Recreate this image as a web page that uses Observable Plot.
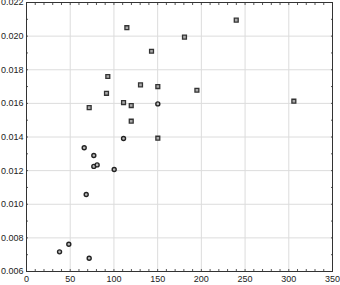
<!DOCTYPE html>
<html><head><meta charset="utf-8">
<script src="https://cdn.jsdelivr.net/npm/d3@7"></script>
<script src="https://cdn.jsdelivr.net/npm/@observablehq/plot@0.6"></script>
<style>body{margin:0;background:#fff;} svg{display:block;}</style>
</head><body><div id="chart"></div>
<script>
const squareX = [93, 91.5, 71.7, 111, 119.8, 119.8, 130.4, 150.2, 150.2, 114.8, 239.9, 180.7, 143, 194.9, 305.8];
const squareY = [0.0176, 0.0166, 0.01575, 0.01605, 0.01587, 0.01494, 0.0171, 0.0170, 0.01393, 0.0205, 0.02095, 0.01994, 0.0191, 0.01678, 0.01613];
const circleX = [37.8, 48.4, 71.7, 68.3, 66, 77, 77, 80.8, 100.3, 111, 150.2];
const circleY = [0.00717, 0.00762, 0.00679, 0.01058, 0.01336, 0.0129, 0.01225, 0.01234, 0.01207, 0.01391, 0.01597];
const xTicks = [0, 50, 100, 150, 200, 250, 300, 350];
const yTicks = [0.006, 0.008, 0.010, 0.012, 0.014, 0.016, 0.018, 0.020, 0.022];
const xMinor = d3.range(0, 351, 10);
const yMinor = d3.range(0.006, 0.02201, 0.001);

const squares = squareX.map((x, i) => ({x, y: squareY[i]}));
const circles = circleX.map((x, i) => ({x, y: circleY[i]}));

const chart = Plot.plot({
  width: 340, height: 285,
  marginLeft: 26, marginRight: 8, marginTop: 2, marginBottom: 14,
  style: {fontFamily: "Liberation Sans, Arial, sans-serif", fontSize: "9px", color: "#222", background: "#fff"},
  x: {domain: [0, 350]},
  y: {domain: [0.006, 0.022]},
  marks: [
    Plot.gridX(xTicks, {stroke: "#dcdcdc", strokeOpacity: 1, strokeWidth: 1}),
    Plot.gridY(yTicks, {stroke: "#dcdcdc", strokeOpacity: 1, strokeWidth: 1}),
    Plot.axisX({anchor: "bottom", ticks: xTicks, tickFormat: d3.format("d"), tickSize: 0, tickPadding: 4, label: null}),
    Plot.axisY({anchor: "left", ticks: yTicks, tickFormat: d3.format(".3f"), tickSize: 0, tickPadding: 3, label: null}),
    Plot.axisX({anchor: "top", ticks: xMinor, tickSize: -2, text: null, label: null, stroke: "#555"}),
    Plot.axisX({anchor: "bottom", ticks: xMinor, tickSize: -2, text: null, label: null, stroke: "#555"}),
    Plot.axisY({anchor: "right", ticks: yMinor, tickSize: -2, text: null, label: null, stroke: "#555"}),
    Plot.axisY({anchor: "left", ticks: yMinor, tickSize: -2, text: null, label: null, stroke: "#555"}),
    Plot.frame({stroke: "#333", strokeWidth: 1}),
    Plot.dot(circles, {x: "x", y: "y", symbol: "circle", r: 2, fill: "#bbb", stroke: "#222", strokeWidth: 1.4}),
    Plot.dot(squares, {x: "x", y: "y", symbol: "square", r: 2.2, fill: "#aaa", stroke: "#333", strokeWidth: 1.3})
  ]
});
document.getElementById("chart").appendChild(chart);
</script></body></html>
